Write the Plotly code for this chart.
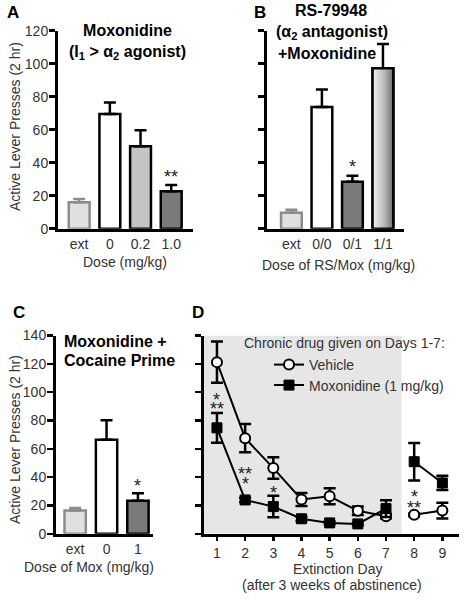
import plotly.graph_objects as go

FONT = "'Liberation Sans', Arial, Helvetica, sans-serif"

# ---------------- data ----------------
# Panel A: Moxonidine dose response
a_labels = ["ext", "0", "0.2", "1.0"]
a_means = [16.0, 69.5, 50.0, 22.7]
a_sem = [2.0, 7.0, 9.7, 3.8]
a_colors = ["#e0e0e0", "#ffffff", "#c4c4c4", "#7a7a7a"]
a_lines = ["#8c8c8c", "#000000", "#000000", "#000000"]

# Panel B: RS-79948 + Moxonidine
b_labels = ["ext", "0/0", "0/1", "1/1"]
b_means = [9.7, 73.8, 28.5, 97.2]
b_sem = [1.8, 10.5, 3.6, 14.8]
b_colors = ["#e0e0e0", "#ffffff", "#7a7a7a", "#b0b0b0"]
b_lines = ["#8c8c8c", "#000000", "#000000", "#000000"]

# Panel C: Moxonidine + cocaine prime
c_labels = ["ext", "0", "1"]
c_means = [16.4, 66.4, 23.4]
c_sem = [1.9, 13.8, 5.2]
c_colors = ["#e0e0e0", "#ffffff", "#7a7a7a"]
c_lines = ["#8c8c8c", "#000000", "#000000"]

# Panel D: extinction days
days = [1, 2, 3, 4, 5, 6, 7, 8, 9]
veh_mean = [121.2, 67.5, 46.4, 24.2, 26.5, 16.2, 12.4, 13.4, 16.4]
veh_sem = [14.6, 10.0, 7.6, 4.6, 5.6, 3.0, 1.5, 1.0, 5.6]
mox_mean = [74.8, 23.9, 19.2, 10.6, 7.7, 7.0, 17.8, 50.9, 35.9]
mox_sem = [10.5, 1.5, 7.6, 1.5, 1.0, 1.0, 5.9, 13.2, 5.0]
segments = [(0, 7), (7, 9)]  # days 1-7 and 8-9 drawn as separate lines

# significance marks: (panel, x, y, text)
stars = [
    ("A", 3, 33.8, "**"),
    ("B", 2, 39.8, "*"),
    ("C", 2, 36.3, "*"),
    ("D", 1, 97.3, "*"),
    ("D", 1, 90.9, "**"),
    ("D", 2, 44.9, "**"),
    ("D", 2, 37.8, "*"),
    ("D", 3, 31.9, "*"),
    ("D", 8, 28.8, "*"),
    ("D", 8, 21.3, "**"),
]

# ---------------- geometry helpers (page pixels -> paper fractions) ----------------
W, H = 464, 600


def px(x):
    return x / W


def py(y):
    return 1 - y / H


BAR_W = 0.68
fig = go.Figure()


def add_bars(labels, means, sems, colors, lines, xa, ya):
    for i, (lab, m, s, c, lc) in enumerate(zip(labels, means, sems, colors, lines)):
        fig.add_trace(go.Bar(
            x=[i], y=[m], width=BAR_W, xaxis=xa, yaxis=ya,
            marker=dict(color=c, line=dict(color=lc, width=2.5)),
            error_y=dict(type="data", array=[s], arrayminus=[0], symmetric=False,
                         color=lc, thickness=2.5, width=6),
            showlegend=False, name=lab, hoverinfo="skip"))


add_bars(a_labels, a_means, a_sem, a_colors, a_lines, "x", "y")
add_bars(b_labels, b_means, b_sem, b_colors, b_lines, "x2", "y2")
add_bars(c_labels, c_means, c_sem, c_colors, c_lines, "x3", "y3")

# gradient overlay for the 1/1 bar of panel B
gi = 3
gx0, gx1 = gi - BAR_W / 2, gi + BAR_W / 2
fig.add_trace(go.Scatter(
    x=[gx0, gx1, gx1, gx0, gx0], y=[0, 0, b_means[gi], b_means[gi], 0],
    xaxis="x2", yaxis="y2", mode="lines", fill="toself",
    fillgradient=dict(type="horizontal",
                      colorscale=[[0, "#f2f2f2"], [0.6, "#b4b4b4"], [1, "#6e6e6e"]]),
    line=dict(color="black", width=2.5), showlegend=False, hoverinfo="skip"))

# Panel D lines
series = [
    ("Vehicle", veh_mean, veh_sem, "legend",
     dict(symbol="circle", size=10, color="white", line=dict(color="black", width=2))),
    ("Moxonidine (1 mg/kg)", mox_mean, mox_sem, "legend2",
     dict(symbol="square", size=10, color="black", line=dict(color="black", width=1))),
]
for name, mean, sem, lg, mk in series:
    for k, (s0, s1) in enumerate(segments):
        fig.add_trace(go.Scatter(
            x=days[s0:s1], y=mean[s0:s1], xaxis="x4", yaxis="y4",
            mode="lines+markers", name=name, legendgroup=name, showlegend=(k == 0),
            legend=lg, line=dict(color="black", width=2), marker=mk,
            error_y=dict(type="data", array=sem[s0:s1], color="black", thickness=2.5, width=6),
            hoverinfo="skip"))

# ---------------- layout ----------------
tickfont = dict(family=FONT, size=14, color="#333333")
titlefont = dict(family=FONT, size=14, color="#333333")

yax = dict(showline=True, linecolor="black", linewidth=3, ticks="outside", ticklen=6,
           tickwidth=2.5, tickcolor="black", showgrid=False, zeroline=False,
           tickfont=tickfont, automargin=False, ticklabelstandoff=-2)
xax = dict(showline=True, linecolor="black", linewidth=3, ticks="", showgrid=False,
           zeroline=False, tickfont=tickfont, automargin=False)

top_dom = [py(228.7), py(30.7)]
bot_dom = [py(533.8), py(335.5)]
legfont = dict(family=FONT, size=14, color="#333333")

fig.update_layout(
    width=W, height=H, margin=dict(l=0, r=0, t=0, b=0, autoexpand=False),
    paper_bgcolor="white", plot_bgcolor="rgba(0,0,0,0)",
    barmode="overlay", font=dict(family=FONT, color="#333333"),
    xaxis=dict(xax, domain=[px(58), px(193)], range=[-0.69, 3.71],
               tickvals=list(range(len(a_labels))), ticktext=a_labels, anchor="y"),
    yaxis=dict(yax, domain=top_dom, range=[0, 120], tickvals=list(range(0, 121, 20)),
               anchor="x"),
    xaxis2=dict(xax, domain=[px(267), px(404)], range=[-0.8, 3.69],
                tickvals=list(range(len(b_labels))), ticktext=b_labels, anchor="y2"),
    yaxis2=dict(yax, domain=top_dom, range=[0, 120], tickvals=list(range(0, 121, 20)),
                showticklabels=False, anchor="x2"),
    xaxis3=dict(xax, domain=[px(56), px(153)], range=[-0.61, 2.48],
                tickvals=list(range(len(c_labels))), ticktext=c_labels, anchor="y3"),
    yaxis3=dict(yax, domain=bot_dom, range=[0, 140], tickvals=list(range(0, 141, 20)),
                anchor="x3"),
    xaxis4=dict(xax, domain=[px(204), px(458.7)], range=[0.54, 9.58], tickvals=days,
                ticks="outside", ticklen=4, tickwidth=2.5, tickcolor="black", anchor="y4"),
    yaxis4=dict(yax, domain=bot_dom, range=[0, 140], tickvals=list(range(0, 141, 20)),
                showticklabels=False, anchor="x4"),
    legend=dict(x=px(269), y=py(365), xanchor="left", yanchor="middle",
                bgcolor="rgba(0,0,0,0)", font=legfont, itemwidth=30),
    legend2=dict(x=px(269), y=py(385.5), xanchor="left", yanchor="middle",
                 bgcolor="rgba(0,0,0,0)", font=legfont, itemwidth=30),
    shapes=[dict(type="rect", xref="x4", yref="y4", x0=0.54, x1=7.55, y0=0, y1=140,
                 fillcolor="#e6e6e6", line=dict(width=0), layer="below")],
)

ann = []


def text_at(t, x, y, font, xanchor="center", angle=0):
    ann.append(dict(text=t, x=px(x), y=py(y), xref="paper", yref="paper", showarrow=False,
                    xanchor=xanchor, yanchor="middle", textangle=angle, font=font,
                    align=xanchor if xanchor != "center" else "center"))


# panel letters
for txt, x, y in [("A", 13, 12.5), ("B", 260, 12.5), ("C", 19, 312), ("D", 198, 312)]:
    text_at(f"<b>{txt}</b>", x, y, dict(family=FONT, size=17, color="black"))

bold16 = dict(family=FONT, size=16, color="black")
# panel titles
text_at("<b>Moxonidine<br>(I<sub>1</sub> &gt; α<sub>2</sub> agonist)</b>", 127, 42, bold16)
text_at("<b>RS-79948</b>", 331, 11, bold16)
text_at("<b>(α<sub>2</sub> antagonist)</b>", 332, 32, bold16)
text_at("<b>+Moxonidine</b>", 275.5, 53, bold16, xanchor="left")
text_at("<b>Moxonidine +</b>", 62, 341.7, bold16, xanchor="left")
text_at("<b>Cocaine Prime</b>", 62, 360, bold16, xanchor="left")
text_at("Chronic drug given on Days 1-7:", 242, 343, legfont, xanchor="left")

# axis titles
text_at("Active Lever Presses (2 hr)", 15, 127, titlefont, angle=-90)
text_at("Active Lever Presses (2 hr)", 15, 440, titlefont, angle=-90)
text_at("Dose (mg/kg)", 125, 262, titlefont)
text_at("Dose of RS/Mox (mg/kg)", 338, 265, titlefont)
text_at("Dose of Mox (mg/kg)", 89, 566.7, titlefont)
text_at("Extinction Day", 337, 569.3, titlefont)
text_at("(after 3 weeks of abstinence)", 332, 585, titlefont)

# significance stars
axmap = {"A": ("x", "y"), "B": ("x2", "y2"), "C": ("x3", "y3"), "D": ("x4", "y4")}
for p, x, y, t in stars:
    xr, yr = axmap[p]
    ann.append(dict(text=t, x=x, y=y, xref=xr, yref=yr, showarrow=False,
                    xanchor="center", yanchor="middle", yshift=-4,
                    font=dict(family=FONT, size=18, color="#222222")))
fig.update_layout(annotations=ann)

# remove the browser's default 8px body margin so the figure fills the window exactly
fig.write_html("out.html", config={"displayModeBar": False, "staticPlot": True},
               post_script="document.body.style.margin='0';")
